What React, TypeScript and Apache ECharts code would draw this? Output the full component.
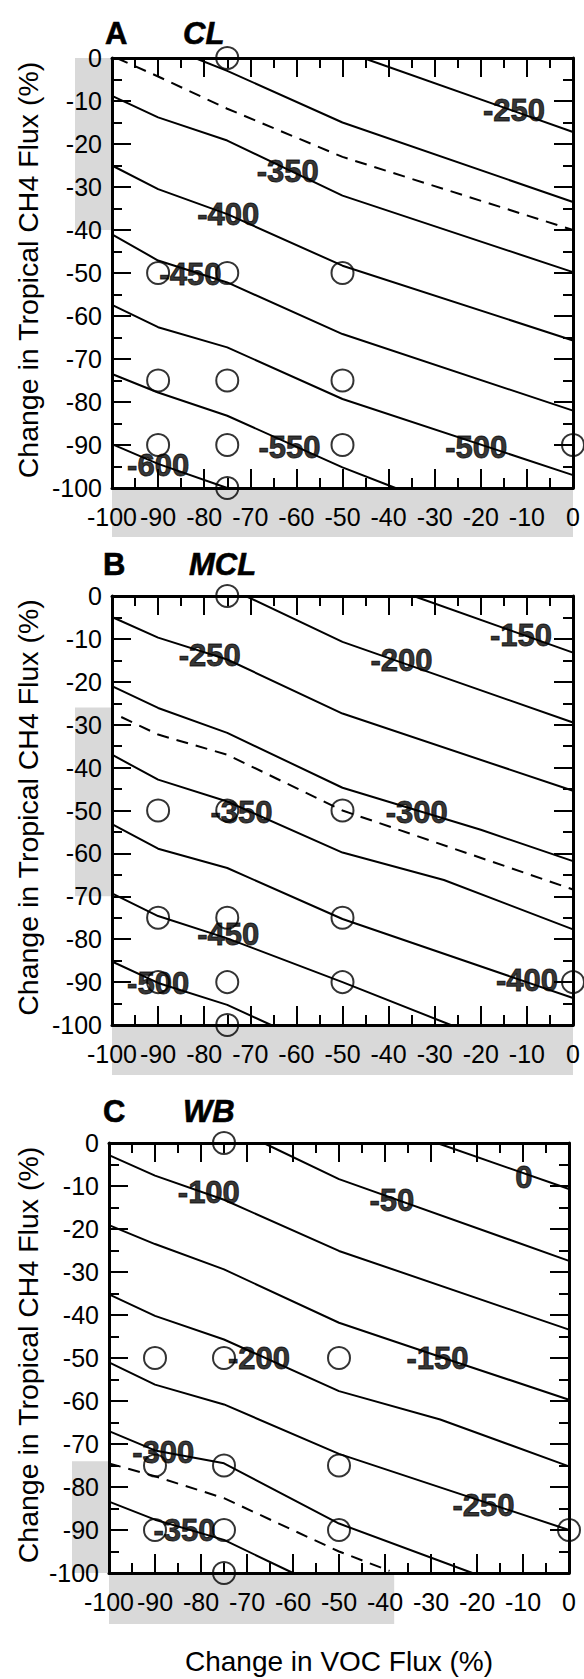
import React, { useEffect, useRef } from "react";
import * as echarts from "echarts";

const FONT = '"Liberation Sans", Arial, Helvetica, sans-serif';

// Axis ticks (percent change)
const vocTicks = [-100, -90, -80, -70, -60, -50, -40, -30, -20, -10, 0];
const ch4Ticks = [0, -10, -20, -30, -40, -50, -60, -70, -80, -90, -100];

// Model runs (VOC change, CH4 change)
const runVoc = [-75, -90, -75, -50, -90, -75, -50, -90, -75, -50, 0, -75];
const runCh4 = [0, -50, -50, -50, -75, -75, -75, -90, -90, -90, -90, -100];

// ---- A: CL ----
const clM250 = [[-45.5, 0], [0, -17.2]];
const clM300 = [[-82, 0], [-75, -3], [-50, -15], [0, -33.5]];
const clRef = [[-99, 0], [-90, -4.3], [-75, -11.8], [-50, -23], [0, -40]];
const clM350 = [[-100, -8.8], [-90, -13.8], [-75, -19.2], [-50, -32], [0, -49.8]];
const clM400 = [[-100, -25], [-90, -30.5], [-75, -36.3], [-50, -48.3], [0, -65.7]];
const clM450 = [[-100, -41], [-90, -47.1], [-75, -52.2], [-50, -64.2], [0, -82]];
const clM500 = [[-100, -57.4], [-90, -62.6], [-75, -67.3], [-50, -79.3], [0, -97]];
const clM550 = [[-100, -73.5], [-90, -77.8], [-75, -83.2], [-50, -95.2], [-38.5, -100]];
const clM600 = [[-100, -89.8], [-90, -94.4], [-75, -100]];
const clLabels = [
  [-12.8, -12.3, -250], [-61.9, -26.3, -350], [-74.8, -36.4, -400], [-83, -50.4, -450],
  [-21, -90.6, -500], [-61.5, -90.5, -550], [-90, -94.7, -600],
];
const clCh4Band = [0, -40];
const clVocBand = [-100, 0];

// ---- B: MCL ----
const mclM150 = [[-34.6, 0], [0, -13.2]];
const mclM200 = [[-71, 0], [-50, -10.7], [0, -29.5]];
const mclM250 = [[-100, -4.9], [-90, -9.7], [-75, -14.8], [-50, -27.4], [0, -45.4]];
const mclM300 = [[-100, -21], [-90, -26.1], [-75, -31.9], [-50, -44.7], [-20, -54.5], [0, -61.8]];
const mclRef = [[-98, -28.2], [-90, -32.3], [-75, -37], [-50, -50], [0, -68.4]];
const mclM350 = [[-100, -37], [-90, -42.8], [-75, -47.9], [-50, -59.8], [-28, -66.2], [0, -77.7]];
const mclM400 = [[-100, -53.2], [-90, -58.9], [-75, -63.4], [-50, -75.3], [0, -93.7]];
const mclM450 = [[-100, -69.3], [-90, -74.6], [-75, -79.8], [-50, -90], [-26.5, -100]];
const mclM500 = [[-100, -85.2], [-90, -90.2], [-75, -95.3], [-65.5, -100]];
const mclLabels = [
  [-11.3, -9.3, -150], [-37.2, -15, -200], [-78.8, -13.8, -250], [-33.9, -50.4, -300],
  [-71.9, -50.4, -350], [-10, -89.6, -400], [-74.8, -78.8, -450], [-90, -90.3, -500],
];
const mclCh4Band = [-26, -70];
const mclVocBand = [-100, 0];

// ---- C: WB ----
const wbM0 = [[-28.7, 0], [0, -10.7]];
const wbM50 = [[-66.4, 0], [-50, -8.4], [0, -27.4]];
const wbM100 = [[-100, -2.8], [-90, -7.6], [-75, -13.2], [-50, -25.1], [0, -43.4]];
const wbM150 = [[-100, -19.1], [-90, -23.5], [-75, -29.4], [-50, -41.8], [-25, -50.8], [0, -59.7]];
const wbM200 = [[-100, -35.2], [-90, -40.2], [-75, -45.7], [-50, -57.7], [-28, -64.3], [0, -75.2]];
const wbM250 = [[-100, -51], [-90, -56.2], [-75, -60.8], [-50, -72.3], [0, -90]];
const wbM300 = [[-100, -67], [-90, -71.5], [-75, -74.5], [-50, -88.5], [-21, -100]];
const wbRef = [[-100, -74.5], [-90, -77.5], [-75, -82.6], [-50, -95], [-39, -99.5]];
const wbM350 = [[-100, -83.4], [-90, -87.6], [-75, -92.3], [-60, -100]];
const wbLabels = [
  [-9.8, -8, 0], [-38.5, -13.3, -50], [-78.3, -11.5, -100], [-28.6, -50.2, -150],
  [-67.4, -50.2, -200], [-18.6, -84.4, -250], [-88.2, -71.9, -300], [-83.6, -90.1, -350],
];
const wbCh4Band = [-74, -100];
const wbVocBand = [-100, -38];

const panels = [
  {
    letter: "A", name: "CL",
    solid: [clM250, clM300, clM350, clM400, clM450, clM500, clM550, clM600],
    ref: clRef, labels: clLabels, ch4Band: clCh4Band, vocBand: clVocBand,
  },
  {
    letter: "B", name: "MCL",
    solid: [mclM150, mclM200, mclM250, mclM300, mclM350, mclM400, mclM450, mclM500],
    ref: mclRef, labels: mclLabels, ch4Band: mclCh4Band, vocBand: mclVocBand,
  },
  {
    letter: "C", name: "WB",
    solid: [wbM0, wbM50, wbM100, wbM150, wbM200, wbM250, wbM300, wbM350],
    ref: wbRef, labels: wbLabels, ch4Band: wbCh4Band, vocBand: wbVocBand,
  },
];

// Pixel layout of the three stacked panels
const layout = [
  { left: 112, top: 58, width: 461, height: 430, letterX: 105, letterY: 33, nameX: 183, bandW: 37, bandH: 49 },
  { left: 112, top: 596, width: 461, height: 429, letterX: 103, letterY: 564, nameX: 189, bandW: 37, bandH: 50 },
  { left: 109, top: 1143, width: 460, height: 430, letterX: 103, letterY: 1111, nameX: 183, bandW: 37, bandH: 51 },
];

const BLACK = "#000";
const BAND = "#d9d9d9";

function axisCommon(ticks: number[], showLabel: boolean, margin: number) {
  const lo = Math.min(...ticks);
  const hi = Math.max(...ticks);
  return {
    type: "value",
    min: lo,
    max: hi,
    interval: Math.abs(ticks[1] - ticks[0]),
    axisLine: { show: true, onZero: false, lineStyle: { color: BLACK, width: 3 } },
    axisTick: { show: true, inside: true, length: 19, lineStyle: { color: BLACK, width: 2 } },
    minorTick: { show: true, splitNumber: 2, length: 10, lineStyle: { color: BLACK, width: 2 } },
    splitLine: { show: false },
    minorSplitLine: { show: false },
    axisLabel: {
      show: showLabel,
      color: BLACK,
      fontSize: 25,
      fontFamily: FONT,
      margin,
    },
  };
}

export default function App() {
  const ref = useRef<HTMLDivElement>(null);

  useEffect(() => {
    if (!ref.current) return;
    const chart = echarts.init(ref.current, null, { renderer: "svg" });

    const grid: any[] = [];
    const xAxis: any[] = [];
    const yAxis: any[] = [];
    const series: any[] = [];

    panels.forEach((p, i) => {
      const L = layout[i];
      grid.push({ left: L.left, top: L.top, width: L.width, height: L.height, show: false });
      xAxis.push({ ...axisCommon(vocTicks, true, 16), gridIndex: i, position: "bottom" });
      xAxis.push({ ...axisCommon(vocTicks, false, 0), gridIndex: i, position: "top" });
      yAxis.push({ ...axisCommon(ch4Ticks, true, 10), gridIndex: i, position: "left" });
      yAxis.push({ ...axisCommon(ch4Ticks, false, 0), gridIndex: i, position: "right" });

      const xi = 2 * i;
      const yi = 2 * i;
      p.solid.forEach((pts) => {
        series.push({
          type: "line", xAxisIndex: xi, yAxisIndex: yi, data: pts,
          showSymbol: false, symbol: "none", silent: true, z: 2,
          lineStyle: { color: BLACK, width: 2 },
        });
      });
      series.push({
        type: "line", xAxisIndex: xi, yAxisIndex: yi, data: p.ref,
        showSymbol: false, symbol: "none", silent: true, z: 2,
        lineStyle: { color: BLACK, width: 2, type: [12, 8] },
      });
      series.push({
        type: "scatter", xAxisIndex: xi, yAxisIndex: yi, clip: false, silent: true, z: 3,
        data: runVoc.map((v, k) => [v, runCh4[k]]),
        symbol: "circle", symbolSize: 22,
        itemStyle: { color: "transparent", borderColor: BLACK, borderWidth: 2 },
      });
      series.push({
        type: "scatter", xAxisIndex: xi, yAxisIndex: yi, clip: false, silent: true, z: 4,
        data: p.labels,
        symbol: "circle", symbolSize: 1,
        itemStyle: { color: "transparent" },
        label: {
          show: true, position: "inside", color: BLACK,
          fontSize: 31, fontWeight: "bold", fontFamily: FONT,
          textBorderColor: BLACK, textBorderWidth: 0.9,
          formatter: (q: any) => String(q.value[2]),
        },
      });
    });

    chart.setOption({ animation: false, grid, xAxis, yAxis, series });

    // Shaded ranges beside the axes plus all titles
    const graphic: any[] = [];
    panels.forEach((p, i) => {
      const L = layout[i];
      const xi = 2 * i;
      const yTop = chart.convertToPixel({ yAxisIndex: 2 * i }, Math.max(...p.ch4Band)) as number;
      const yBot = chart.convertToPixel({ yAxisIndex: 2 * i }, Math.min(...p.ch4Band)) as number;
      const xLo = chart.convertToPixel({ xAxisIndex: xi }, Math.min(...p.vocBand)) as number;
      const xHi = chart.convertToPixel({ xAxisIndex: xi }, Math.max(...p.vocBand)) as number;
      graphic.push({
        type: "rect", z: -10, silent: true,
        shape: { x: L.left - L.bandW, y: yTop, width: L.bandW, height: yBot - yTop },
        style: { fill: BAND },
      });
      graphic.push({
        type: "rect", z: -10, silent: true,
        shape: { x: xLo, y: L.top + L.height, width: xHi - xLo, height: L.bandH },
        style: { fill: BAND },
      });
      graphic.push({
        type: "text", x: L.letterX, y: L.letterY, silent: true,
        style: {
          text: p.letter, fill: BLACK, font: `bold 31px ${FONT}`,
          stroke: BLACK, lineWidth: 0.6,
          align: "left", verticalAlign: "middle", textAlign: "left", textVerticalAlign: "middle",
        },
      });
      graphic.push({
        type: "text", x: L.nameX, y: L.letterY, silent: true,
        style: {
          text: p.name, fill: BLACK, font: `italic bold 31px ${FONT}`,
          stroke: BLACK, lineWidth: 0.6,
          align: "left", verticalAlign: "middle", textAlign: "left", textVerticalAlign: "middle",
        },
      });
      graphic.push({
        type: "text", x: 28, y: L.top + L.height / 2 - 3, rotation: Math.PI / 2, silent: true,
        style: {
          text: "Change in Tropical CH4 Flux (%)", fill: BLACK, font: `28.5px ${FONT}`,
          align: "center", verticalAlign: "middle", textAlign: "center", textVerticalAlign: "middle",
        },
      });
    });
    const last = layout[2];
    graphic.push({
      type: "text", x: last.left + last.width / 2, y: 1661, silent: true,
      style: {
        text: "Change in VOC Flux (%)", fill: BLACK, font: `28px ${FONT}`,
        align: "center", verticalAlign: "middle", textAlign: "center", textVerticalAlign: "middle",
      },
    });
    chart.setOption({ graphic });

    return () => chart.dispose();
  }, []);

  return (
    <div
      ref={ref}
      style={{ position: "absolute", left: 0, top: 0, width: 584, height: 1679, background: "#fff" }}
    />
  );
}
